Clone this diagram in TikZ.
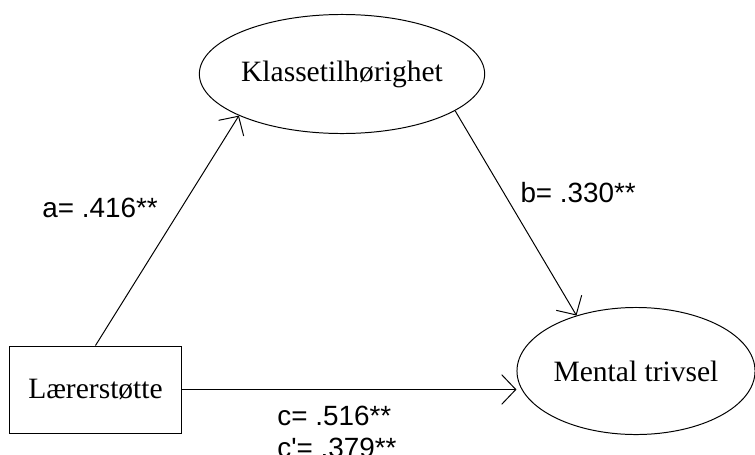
\documentclass[tikz,border=0pt]{standalone}
\usepackage{fontspec}
\setmainfont{Liberation Serif}
\newfontfamily\coeffont{Liberation Sans}
\usepackage{tikz}
\usetikzlibrary{shapes.geometric, arrows.meta, positioning}

\begin{document}
\begin{tikzpicture}[
    x=0.025cm, y=-0.025cm,
    line width=0.7pt,
    >={Straight Barb[length=10pt, width=21pt, line width=0.7pt]},
    latent/.style={ellipse, draw, inner sep=0pt, font=\fontsize{21}{25}\selectfont},
    observed/.style={rectangle, draw, inner sep=0pt, minimum width=4.275cm, minimum height=2.175cm, font=\fontsize{21}{25}\selectfont},
    coef/.style={anchor=west, inner sep=0pt, font=\coeffont\fontsize{19.8}{24}\selectfont}
]
\useasboundingbox (0,0) rectangle (755,454);

% Variables
\node[observed] (lar) at (95.5,389.5) {Lærerstøtte};
\node[latent, minimum width=5.875cm, minimum height=2.975cm] (klasse) at (342,74) {Klassetilhørighet};
\node[latent, minimum width=5.95cm, minimum height=3.175cm] (mental) at (636,371) {Mental trivsel};

% Paths
\draw[->] (lar.north) -- (klasse.202);
\draw[->] (klasse.-18) -- (mental.137);
\draw[->] (lar.east) -- (lar.east -| mental.west);

% Coefficients
\node[coef] (pa) at (42,208) {a= .416**};
\node[coef] (pb) at (520,193) {b= .330**};
\node[coef] (pc) at (277,416) {c= .516**};
\node[coef] (pcc) at (277,448) {c'= .379**};

\end{tikzpicture}
\end{document}
